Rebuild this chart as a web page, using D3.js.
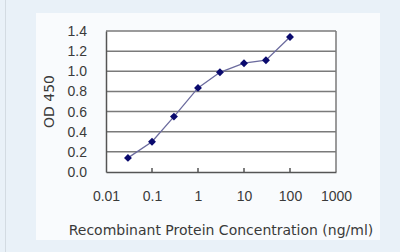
<!DOCTYPE html>
<html>
<head>
<meta charset="utf-8">
<script src="https://cdn.jsdelivr.net/npm/d3@7"></script>
<style>
  body { margin: 0; background: #e9f1f8; }
  svg { display: block; font-family: "Liberation Sans", Arial, sans-serif; }
</style>
</head>
<body>
<div id="chart"></div>
<script>
// concentration (ng/ml) and OD 450 readings
const concentrations = [0.03, 0.1, 0.3, 1, 3, 10, 30, 100];
const odValues = [0.14, 0.30, 0.55, 0.835, 0.99, 1.08, 1.11, 1.34];
const xTicks = [0.01, 0.1, 1, 10, 100, 1000];
const xTickLabels = ['0.01', '0.1', '1', '10', '100', '1000'];
const yTicks = [0, 0.2, 0.4, 0.6, 0.8, 1.0, 1.2, 1.4];

const width = 400;
const height = 252;
const margin = { top: 31, right: 64, bottom: 80, left: 106 };

const svg = d3.select('#chart')
  .append('svg')
  .attr('width', width)
  .attr('height', height);

// outer background + thin left border
svg.append('rect')
  .attr('width', width).attr('height', height)
  .attr('fill', '#e9f1f8');
svg.append('line')
  .attr('x1', 5.5).attr('x2', 5.5).attr('y1', 0).attr('y2', height)
  .attr('stroke', '#d3dbe2');

// lighter panel
svg.append('rect')
  .attr('x', 36).attr('y', 13)
  .attr('width', 344).attr('height', 227)
  .attr('fill', '#f9fbfd');

const x = d3.scaleLog()
  .domain([0.01, 1000])
  .range([margin.left, width - margin.right]);

const y = d3.scaleLinear()
  .domain([0, 1.4])
  .range([height - margin.bottom, margin.top]);

// plot area
svg.append('rect')
  .attr('x', x(0.01)).attr('y', y(1.4))
  .attr('width', x(1000) - x(0.01))
  .attr('height', y(0) - y(1.4))
  .attr('fill', '#ffffff');

// horizontal gridlines
svg.append('g')
  .selectAll('line')
  .data(yTicks.slice(1))
  .enter().append('line')
  .attr('x1', x(0.01)).attr('x2', x(1000))
  .attr('y1', d => y(d)).attr('y2', d => y(d))
  .attr('stroke', '#7a7a7a')
  .attr('stroke-width', 1.5);

// right border
svg.append('line')
  .attr('x1', x(1000)).attr('x2', x(1000))
  .attr('y1', y(1.4)).attr('y2', y(0))
  .attr('stroke', '#7a7a7a')
  .attr('stroke-width', 1.5);

// y axis
const yAxis = svg.append('g')
  .attr('transform', `translate(${x(0.01)},0)`)
  .call(d3.axisLeft(y).tickValues(yTicks).tickFormat(d3.format('.1f')).tickSize(0).tickPadding(19));
yAxis.select('.domain').attr('stroke', '#555').attr('stroke-width', 1.5);
yAxis.selectAll('text')
  .attr('fill', '#3a3a3a')
  .style('font-size', '14px');

// x axis
const xAxis = svg.append('g')
  .attr('transform', `translate(0,${y(0)})`)
  .call(d3.axisBottom(x).tickValues(xTicks).tickFormat((d, i) => xTickLabels[i]).tickSize(0).tickPadding(19));
xAxis.select('.domain').attr('stroke', '#555').attr('stroke-width', 1.5);
xAxis.selectAll('text')
  .attr('fill', '#3a3a3a')
  .style('font-size', '14px');

// small tick marks above the axis
svg.append('g')
  .selectAll('line')
  .data(xTicks.slice(1, -1))
  .enter().append('line')
  .attr('x1', d => x(d)).attr('x2', d => x(d))
  .attr('y1', y(0) - 4).attr('y2', y(0))
  .attr('stroke', '#555')
  .attr('stroke-width', 1.5);

// axis titles
svg.append('text')
  .attr('transform', `translate(54,${(y(0) + y(1.4)) / 2}) rotate(-90)`)
  .attr('text-anchor', 'middle')
  .attr('fill', '#3a3a3a')
  .style('font-family', '"DejaVu Sans", sans-serif')
  .style('font-size', '14px')
  .text('OD 450');

svg.append('text')
  .attr('x', 221).attr('y', 235)
  .attr('text-anchor', 'middle')
  .attr('fill', '#3a3a3a')
  .style('font-family', '"DejaVu Sans", sans-serif')
  .style('font-size', '14px')
  .text('Recombinant Protein Concentration (ng/ml)');

// data line
const points = concentrations.map((c, i) => ({ c: c, v: odValues[i] }));
const line = d3.line()
  .x(d => x(d.c))
  .y(d => y(d.v));

svg.append('path')
  .datum(points)
  .attr('d', line)
  .attr('fill', 'none')
  .attr('stroke', '#6b6b9e')
  .attr('stroke-width', 1.3);

// diamond markers
svg.append('g')
  .selectAll('path')
  .data(points)
  .enter().append('path')
  .attr('transform', d => `translate(${x(d.c)},${y(d.v)})`)
  .attr('d', d3.symbol(d3.symbolDiamond2, 40))
  .attr('fill', '#0a0a6e');
</script>
</body>
</html>
